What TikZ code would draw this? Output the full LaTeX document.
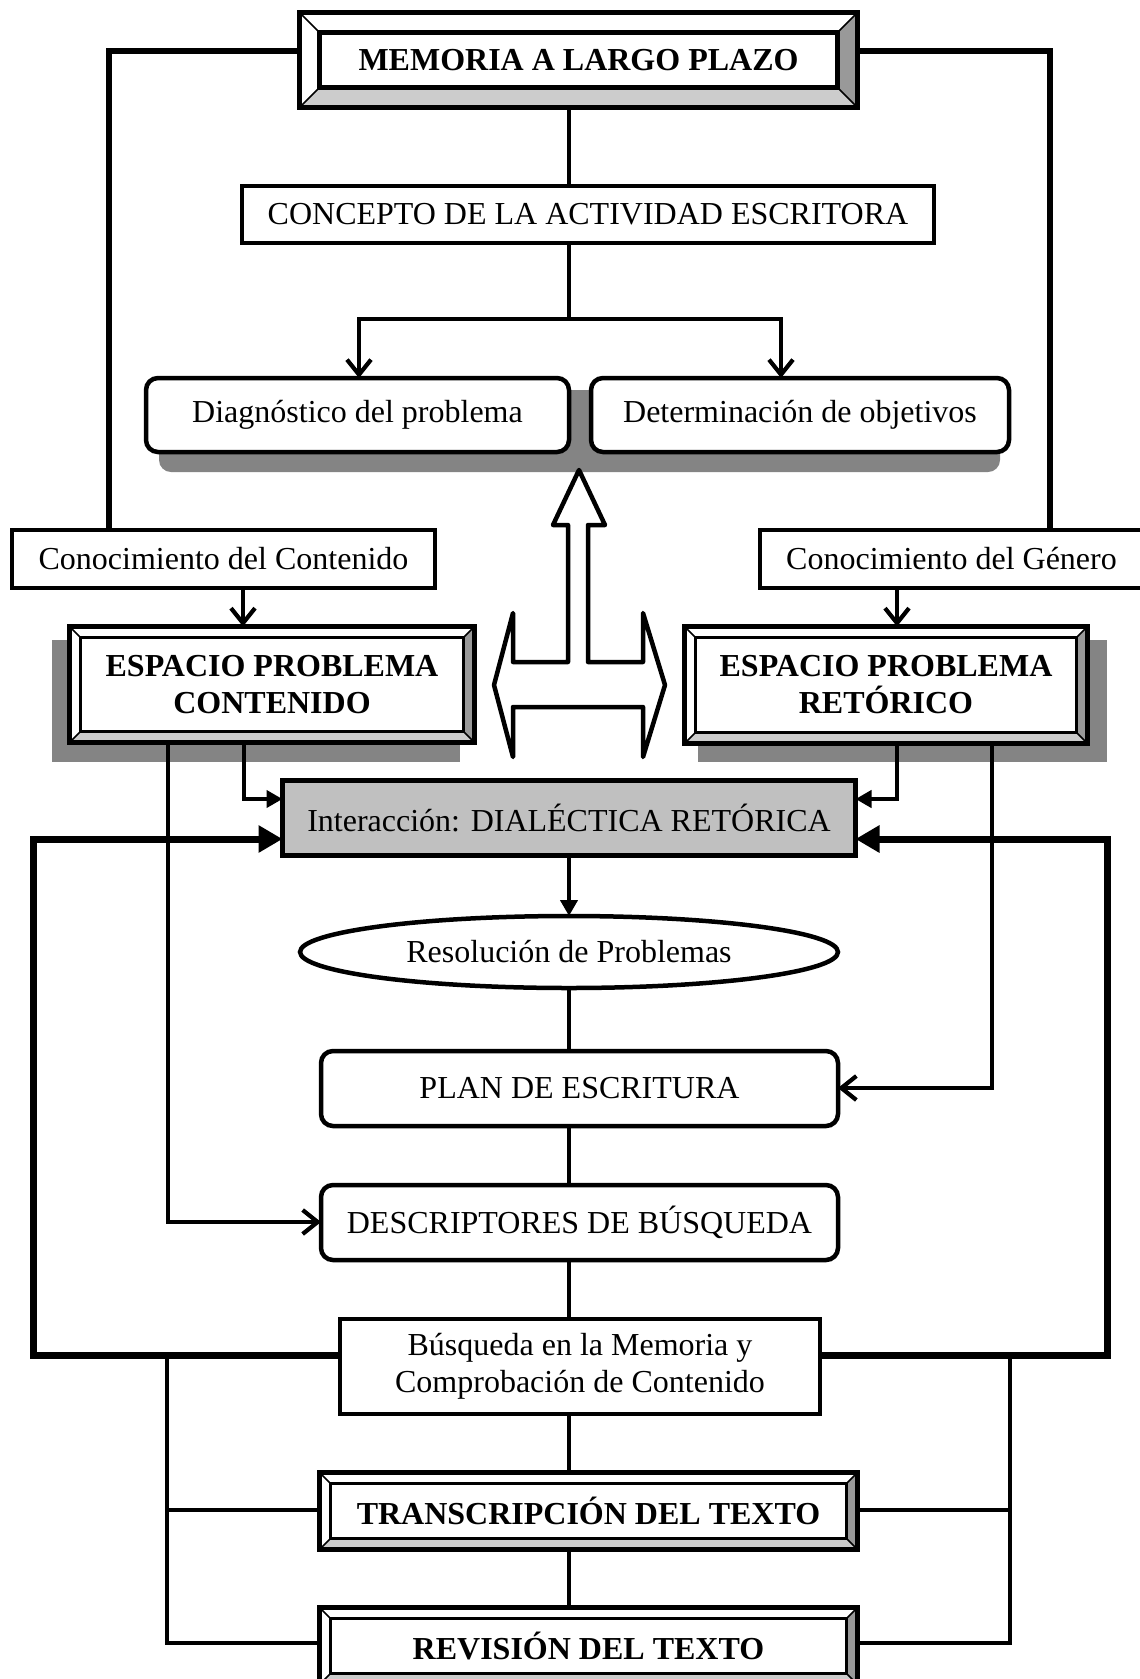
\documentclass[tikz,border=0pt]{standalone}
\usepackage{fontspec}
\setmainfont{Liberation Serif}
\usetikzlibrary{arrows.meta,calc,shapes.geometric}
\definecolor{dropgray}{HTML}{848484}
\definecolor{panel}{HTML}{C0C0C0}
\definecolor{bevmid}{HTML}{CCCCCC}
\definecolor{bevdark}{HTML}{999999}

% Beveled double frame around an existing node:
% #1 node name, #2 bevel width, #3 outer line width, #4 inner line width
\newcommand\bevelframe[4]{%
  \coordinate (#1-A) at (#1.north west);
  \coordinate (#1-B) at (#1.north east);
  \coordinate (#1-C) at (#1.south east);
  \coordinate (#1-D) at (#1.south west);
  \coordinate (#1-a) at ($(#1-A)+(#2,#2)$);
  \coordinate (#1-b) at ($(#1-B)+(-#2,#2)$);
  \coordinate (#1-c) at ($(#1-C)+(-#2,-#2)$);
  \coordinate (#1-d) at ($(#1-D)+(#2,-#2)$);
  \fill[white] (#1-A)--(#1-B)--(#1-b)--(#1-a)--cycle;
  \fill[white] (#1-A)--(#1-a)--(#1-d)--(#1-D)--cycle;
  \fill[bevmid] (#1-D)--(#1-d)--(#1-c)--(#1-C)--cycle;
  \fill[bevdark] (#1-B)--(#1-C)--(#1-c)--(#1-b)--cycle;
  \draw[line width=1.5pt] (#1-A)--(#1-a) (#1-B)--(#1-b) (#1-C)--(#1-c) (#1-D)--(#1-d);
  \draw[line width=#4] (#1-a) rectangle (#1-c);
  \draw[line width=#3] (#1-A) rectangle (#1-C);
}

\begin{document}
\begin{tikzpicture}[x=1pt,y=-1pt,
  every node/.style={font=\fontsize{32}{37}\selectfont, inner sep=0pt, outer sep=0pt, align=center},
  plainbox/.style={draw, line width=4.5pt, fill=white},
  roundbox/.style={plainbox, rounded corners=12pt},
  framebold/.style={fill=white, font=\fontsize{32}{37}\selectfont\bfseries},
  link/.style={line width=4.2pt},
  sideline/.style={line width=5.5pt},
  loopline/.style={line width=7pt},
  barbtip/.style={-{Straight Barb[length=15pt,width=24pt]}},
  filltip/.style={-{Triangle[length=16pt,width=17pt]}},
  bigfilltip/.style={-{Triangle[length=24pt,width=26pt]}},
]
\useasboundingbox (0,0) rectangle (1140,1679);
\fill[white] (0,0) rectangle (1140,1679);

% drop shadows
\fill[dropgray, rounded corners=12pt] (159,390) rectangle (1000,472);
\fill[dropgray] (52,640) rectangle (460,762);
\fill[dropgray] (698,640) rectangle (1107,762);

% nodes
\node[framebold, minimum width=558pt, minimum height=95pt] (mem) at (578.5,60) {MEMORIA A LARGO PLAZO};
\node[plainbox, minimum width=692pt, minimum height=57pt] (con) at (588,214.5) {CONCEPTO DE LA ACTIVIDAD ESCRITORA};
\node[roundbox, minimum width=423pt, minimum height=74pt] (diag) at (357.5,415) {Diagnóstico del problema};
\node[roundbox, minimum width=418pt, minimum height=74pt] (det) at (800,415) {Determinación de objetivos};
\node[plainbox, minimum width=423pt, minimum height=58pt] (cc) at (223.5,559) {Conocimiento del Contenido};
\node[plainbox, minimum width=383pt, minimum height=58pt] (cg) at (951.5,559) {Conocimiento del Género};
\node[framebold, minimum width=405pt, minimum height=116pt] (espc) at (272,684.5) {ESPACIO PROBLEMA\\CONTENIDO};
\node[framebold, minimum width=403pt, minimum height=117pt] (espr) at (886,685) {ESPACIO PROBLEMA\\RETÓRICO};
\node[plainbox, line width=5.5pt, fill=panel, minimum width=573pt, minimum height=75pt] (int) at (569,818) {Interacción: DIALÉCTICA RETÓRICA};
\node[plainbox, ellipse, minimum width=538pt, minimum height=72pt] (res) at (569,952) {Resolución de Problemas};
\node[roundbox, minimum width=517pt, minimum height=75pt] (plan) at (579.5,1088.5) {PLAN DE ESCRITURA};
\node[roundbox, minimum width=517pt, minimum height=75pt] (desc) at (579.5,1222.5) {DESCRIPTORES DE BÚSQUEDA};
\node[plainbox, minimum width=480pt, minimum height=95pt] (bus) at (580,1366.5) {Búsqueda en la Memoria y\\Comprobación de Contenido};
\node[framebold, minimum width=538pt, minimum height=77pt] (trans) at (588.5,1511) {TRANSCRIPCIÓN DEL TEXTO};
\node[framebold, minimum width=538pt, minimum height=77pt] (rev) at (588.5,1646) {REVISIÓN DEL TEXTO};

% beveled frames
\bevelframe{mem}{20}{5.5pt}{4.5pt}
\bevelframe{espc}{11}{5.5pt}{3.5pt}
\bevelframe{espr}{11}{5.5pt}{3.5pt}
\bevelframe{trans}{11}{5.5pt}{3.5pt}
\bevelframe{rev}{11}{5.5pt}{3.5pt}

% hollow three-way arrow
\draw[line width=4.5pt, fill=white, line join=round]
  (579,470) -- (605,525) -- (588,525) -- (588,662) -- (643,662) -- (643,613)
  -- (665,685) -- (643,757) -- (643,707) -- (513,707) -- (513,757) -- (494,685)
  -- (513,613) -- (513,662) -- (568,662) -- (568,525) -- (553,525) -- cycle;

% helper coordinates for bends
\coordinate (spine) at (569,0);
\coordinate (fork) at (569,319);
\coordinate (forkL) at (359,319);
\coordinate (forkR) at (781,319);
\coordinate (memL) at (109,51);
\coordinate (memR) at (1050,51);
\coordinate (ccx) at (243,0);
\coordinate (cgx) at (897,0);
\coordinate (eL1) at (244,799);
\coordinate (eL2) at (168,1222);
\coordinate (eR1) at (897,799);
\coordinate (eR2) at (992,1088);
\coordinate (lpL) at (33,1355);
\coordinate (lpLt) at (33,839);
\coordinate (lpR) at (1107,1355);
\coordinate (lpRt) at (1107,839);
\coordinate (lwL) at (167,1355);
\coordinate (lwL1) at (167,1510);
\coordinate (lwL2) at (167,1643);
\coordinate (lwR) at (1010,1355);
\coordinate (lwR1) at (1010,1510);
\coordinate (lwR2) at (1010,1643);

% top part
\draw[sideline] (mem.west |- memL) -- (memL) -- (cc.north -| memL);
\draw[sideline] (mem.east |- memR) -- (memR) -- (cg.north -| memR);
\draw[link] (mem.south -| spine) -- (con.north -| spine);
\draw[link] (con.south -| fork) -- (fork);
\draw[link, barbtip] (fork) -- (forkL) -- (diag.north -| forkL);
\draw[link, barbtip] (fork) -- (forkR) -- (det.north -| forkR);
\draw[link, barbtip] (cc.south -| ccx) -- (espc.north -| ccx);
\draw[link, barbtip] (cg.south -| cgx) -- (espr.north -| cgx);

% from the problem spaces
\draw[link, filltip] (espc.south -| eL1) -- (eL1) -- (int.west |- eL1);
\draw[link, barbtip] (espc.south -| eL2) -- (eL2) -- (desc.west |- eL2);
\draw[link, filltip] (espr.south -| eR1) -- (eR1) -- (int.east |- eR1);
\draw[link, barbtip] (espr.south -| eR2) -- (eR2) -- (plan.east |- eR2);

% feedback loops
\draw[loopline, bigfilltip] (bus.west |- lpL) -- (lpL) -- (lpLt) -- (int.west |- lpLt);
\draw[loopline, bigfilltip] (bus.east |- lpR) -- (lpR) -- (lpRt) -- (int.east |- lpRt);

% central spine
\draw[link, filltip] (int.south -| spine) -- (res.north -| spine);
\draw[link] (res.south -| spine) -- (plan.north -| spine);
\draw[link] (plan.south -| spine) -- (desc.north -| spine);
\draw[link] (desc.south -| spine) -- (bus.north -| spine);
\draw[link] (bus.south -| spine) -- (trans.north -| spine);
\draw[link] (trans.south -| spine) -- (rev.north -| spine);

% lower side links
\draw[link] (lwL) -- (lwL2) -- (rev.west |- lwL2);
\draw[link] (lwL1) -- (trans.west |- lwL1);
\draw[link] (lwR) -- (lwR2) -- (rev.east |- lwR2);
\draw[link] (lwR1) -- (trans.east |- lwR1);
\end{tikzpicture}
\end{document}
